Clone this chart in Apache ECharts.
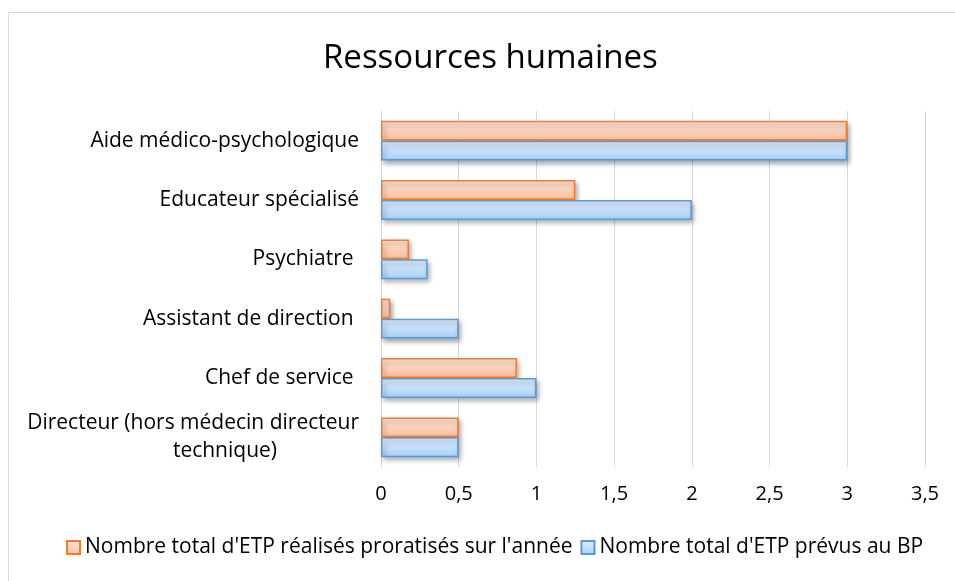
<!DOCTYPE html>
<html><head><meta charset="utf-8">
<script src="https://cdn.jsdelivr.net/npm/echarts@6/dist/echarts.min.js"></script>
<style>html,body{margin:0;padding:0;background:#fff}#c{width:955px;height:581px}</style>
</head><body><div id="c"></div>
<script>
const categories = ["Aide médico-psychologique", "Educateur spécialisé", "Psychiatre ", "Assistant de direction ", "Chef de service ", "Directeur (hors médecin directeur\ntechnique)"];
const realises = [3, 1.25, 0.18, 0.06, 0.875, 0.5];
const prevus = [3, 2, 0.3, 0.5, 1, 0.5];
const seriesNames = ["Nombre total d'ETP réalisés proratisés sur l'année", "Nombre total d'ETP prévus au BP"];
const xTickLabels = ["0", "0,5", "1", "1,5", "2", "2,5", "3", "3,5"];
const titleText = "Ressources humaines";

const FONT = "Open Sans";
const FS = 21;
const chart = echarts.init(document.getElementById('c'), null, {renderer: 'canvas'});
function grad(a, b) {
  return new echarts.graphic.LinearGradient(0, 0, 0, 1, [{offset: 0, color: a}, {offset: 1, color: b}]);
}
chart.setOption({
  animation: false,
  textStyle: {fontFamily: FONT},
  graphic: [{type: 'rect', shape: {x: 8.5, y: 12.5, width: 960, height: 600}, style: {fill: 'none', stroke: '#d9d9d9', lineWidth: 1}, silent: true, z: -10}],
  title: {text: titleText, left: 318, top: 37, textStyle: {fontFamily: FONT, fontSize: 33, fontWeight: 'normal', color: '#000'}},
  legend: {
    bottom: 18, left: 61, itemWidth: 13, itemHeight: 13, itemGap: 8,
    icon: 'rect',
    textStyle: {fontFamily: FONT, fontSize: 21, color: '#000', padding: [0, 0, 0, 0]},
    data: seriesNames
  },
  grid: {left: 381, right: 30, top: 111, bottom: 114, containLabel: false},
  xAxis: {
    type: 'value', min: 0, max: 3.5, interval: 0.5,
    axisLine: {show: false}, axisTick: {show: false},
    splitLine: {lineStyle: {color: '#d9d9d9', width: 1}},
    axisLabel: {fontFamily: FONT, fontSize: 20, color: '#000', margin: 17,
      formatter: function (v) { return xTickLabels[Math.round(v / 0.5)]; }}
  },
  yAxis: {
    type: 'category', inverse: true, data: categories,
    axisLine: {lineStyle: {color: '#d9d9d9', width: 1}}, axisTick: {show: false},
    axisLabel: {fontFamily: FONT, fontSize: FS, color: '#000', margin: 22, lineHeight: 28,
      formatter: function (v) {
        if (v.indexOf('\n') >= 0) { const p = v.split('\n'); return p[0] + '\n{b|' + p[1] + '}'; }
        return v;
      },
      rich: {b: {fontFamily: FONT, fontSize: FS, color: '#000', padding: [0, 82, 0, 0], lineHeight: 28}}
    }
  },
  series: [
    {name: seriesNames[0], type: 'bar', data: realises, barCategoryGap: '33%', barGap: '0%',
      itemStyle: {color: grad('#fee6d8', '#fbbd98'), borderColor: '#ed7d31', borderWidth: 1.5,
        shadowColor: 'rgba(0,0,0,0.35)', shadowBlur: 5, shadowOffsetX: 2, shadowOffsetY: 3}},
    {name: seriesNames[1], type: 'bar', data: prevus, barCategoryGap: '33%', barGap: '0%',
      itemStyle: {color: grad('#e0eefd', '#a8d0f8'), borderColor: '#5b9bd5', borderWidth: 1.5,
        shadowColor: 'rgba(0,0,0,0.35)', shadowBlur: 5, shadowOffsetX: 2, shadowOffsetY: 3}}
  ]
});
</script></body></html>
